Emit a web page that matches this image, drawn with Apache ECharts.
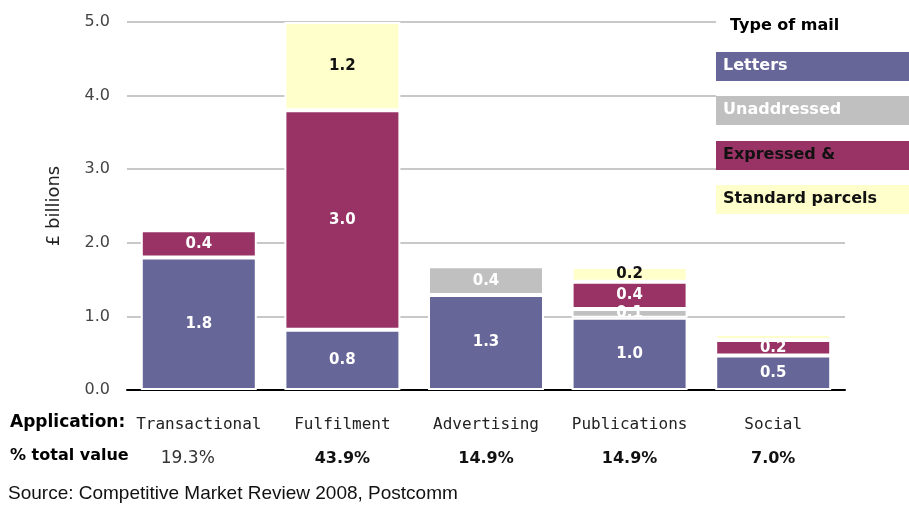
<!DOCTYPE html>
<html>
<head>
<meta charset="utf-8">
<script src="https://cdn.jsdelivr.net/npm/echarts@6/dist/echarts.min.js"></script>
<style>
    html, body { margin: 0; padding: 0; background: #fff; }
    #mail_chart { width: 909px; height: 506px; }
</style>
</head>
<body>
<div id="mail_chart"></div>
<script>
// data (£ billions)
var categories = ['Transactional', 'Fulfilment', 'Advertising', 'Publications', 'Social'];
var shareOfTotal = ['19.3%', '43.9%', '14.9%', '14.9%', '7.0%'];
var letters = [1.8, 0.82, 1.29, 0.98, 0.47];
var unaddressed = [0, 0, 0.39, 0.12, 0];
var expressed = [0.37, 2.98, 0, 0.37, 0.21];
var parcels = [0, 1.2, 0, 0.2, 0.08];
var mailTypes = ['Letters', 'Unaddressed', 'Expressed &', 'Standard parcels'];
var yTicks = [0, 1, 2, 3, 4, 5];

var myChart = echarts.init(document.getElementById('mail_chart'));
var color = ['#666699', '#C0C0C0', '#993366', '#FFFFCC'];
var labelColor = ['#fff', '#fff', '#fff', '#111'];
var legendText = ['#fff', '#fff', '#111', '#111'];
var font = 'DejaVu Sans';

var seriesValues = [letters, unaddressed, expressed, parcels];
var seriesData = [];
for (var i = 0; i < seriesValues.length; i++) {
    seriesData.push({
        name: mailTypes[i],
        type: 'bar',
        stack: 'mail',
        barWidth: 116,
        data: seriesValues[i],
        itemStyle: {
            color: color[i],
            borderColor: '#fff',
            borderWidth: 2
        },
        label: {
            show: true,
            position: 'inside',
            color: labelColor[i],
            fontFamily: font,
            fontWeight: 'bold',
            fontSize: 15,
            formatter: function (p) {
                return p.value >= 0.1 ? p.value.toFixed(1) : '';
            }
        }
    });
}

// legend drawn as coloured boxes with the text inside
var legendTop = [52, 96, 141, 185];
var graphics = [
    { type: 'rect', left: 716, top: 0, shape: { width: 193, height: 216 }, style: { fill: '#fff' }, z: 10 },
    { type: 'text', left: 730, top: 18, z: 11,
      style: { text: 'Type of mail', fill: '#000', font: 'bold 16px ' + font } }
];
for (var j = 0; j < mailTypes.length; j++) {
    graphics.push({ type: 'rect', left: 716, top: legendTop[j], z: 11,
        shape: { width: 193, height: 29 }, style: { fill: color[j] } });
    graphics.push({ type: 'text', left: 723, top: legendTop[j] + 6, z: 12,
        style: { text: mailTypes[j], fill: legendText[j], font: 'bold 16px ' + font } });
}
graphics.push({ type: 'text', left: 10, top: 414,
    style: { text: 'Application:', fill: '#000', font: 'bold 17px ' + font } });
graphics.push({ type: 'text', left: 10, top: 448,
    style: { text: '% total value', fill: '#000', font: 'bold 16px ' + font } });
graphics.push({ type: 'text', left: 8, top: 484,
    style: { text: 'Source: Competitive Market Review 2008, Postcomm', fill: '#111', font: '19px "Liberation Sans"' } });

var option = {
    animation: false,
    grid: {
        left: 127,
        right: 64,
        top: 22,
        bottom: 116
    },
    xAxis: {
        type: 'category',
        data: categories,
        axisLine: { lineStyle: { color: '#000', width: 2 } },
        axisTick: { show: false },
        axisLabel: {
            margin: 25,
            formatter: function (v, idx) {
                var st = idx === 0 ? 'p' : 'pb';
                return '{a|' + v + '}\n{' + st + '|' + shareOfTotal[idx] + '}';
            },
            rich: {
                a: { fontFamily: 'DejaVu Sans Mono', fontSize: 16, color: '#222', lineHeight: 20 },
                p: { fontFamily: font, fontSize: 17, color: '#333', lineHeight: 48, padding: [0, 22, 0, 0] },
                pb: { fontFamily: font, fontSize: 16, fontWeight: 'bold', color: '#111', lineHeight: 48 }
            }
        }
    },
    yAxis: {
        type: 'value',
        min: yTicks[0],
        max: yTicks[yTicks.length - 1],
        interval: 1,
        name: '£ billions',
        nameLocation: 'middle',
        nameGap: 64,
        nameTextStyle: { fontFamily: font, fontSize: 18, color: '#222' },
        axisLine: { show: false },
        axisTick: { show: false },
        axisLabel: {
            margin: 17,
            fontFamily: font,
            fontSize: 16,
            color: '#444',
            formatter: function (v) { return v.toFixed(1); }
        },
        splitLine: { lineStyle: { color: '#c8c8c8', width: 2 } }
    },
    graphic: graphics,
    series: seriesData
};
myChart.setOption(option);

window.addEventListener('resize', function () {
    myChart.resize();
});
</script>
</body>
</html>
